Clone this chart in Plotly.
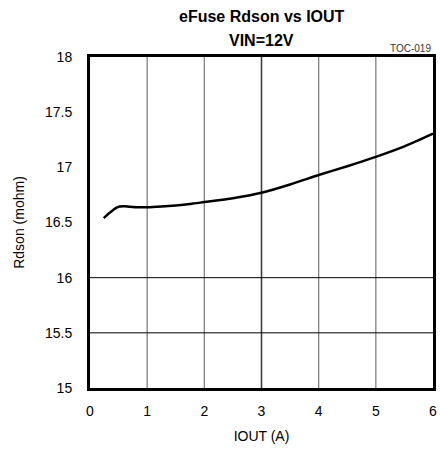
import plotly.graph_objects as go

iout = [0.24, 0.35, 0.45, 0.52, 0.6, 0.7, 0.85, 1.0, 1.25, 1.5, 1.75, 2.0, 2.5, 3.0, 3.5, 4.0, 4.5, 5.0, 5.5, 6.0]
rdson = [16.54, 16.59, 16.63, 16.645, 16.648, 16.643, 16.638, 16.638, 16.645, 16.655, 16.668, 16.685, 16.72, 16.77, 16.845, 16.93, 17.01, 17.095, 17.19, 17.305]

x_ticks = [0, 1, 2, 3, 4, 5, 6]
y_ticks = [15, 15.5, 16, 16.5, 17, 17.5, 18]
y_tick_text = ["15", "15.5", "16", "16.5", "17", "17.5", "18"]
h_grid = [15.5, 16]
v_grid = [1, 2, 4, 5]
title_lines = ["eFuse Rdson vs IOUT", "VIN=12V"]

fig = go.Figure()
fig.add_trace(go.Scatter(x=iout, y=rdson, mode="lines", line=dict(color="black", width=2.5, shape="spline", smoothing=0.8), showlegend=False))

shapes = []
for g in v_grid:
    shapes.append(dict(type="line", xref="x", yref="paper", x0=g, x1=g, y0=0, y1=1, line=dict(color="#808080", width=1.3), layer="below"))
shapes.append(dict(type="line", xref="x", yref="paper", x0=3, x1=3, y0=0, y1=1, line=dict(color="#404040", width=1.6), layer="below"))
for g in h_grid:
    shapes.append(dict(type="line", xref="paper", yref="y", x0=0, x1=1, y0=g, y1=g, line=dict(color="black", width=1), layer="below"))

font = "Liberation Sans, Arial, sans-serif"
annotations = [
    dict(text="<b>" + title_lines[0] + "</b>", xref="paper", yref="paper", x=0.5, y=1.121, xanchor="center", yanchor="middle",
         showarrow=False, font=dict(family=font, size=16, color="black")),
    dict(text="<b>" + title_lines[1] + "</b>", xref="paper", yref="paper", x=0.5, y=1.051, xanchor="center", yanchor="middle",
         showarrow=False, font=dict(family=font, size=16, color="black")),
    dict(text="TOC-019", xref="paper", yref="paper", x=1, y=1.003, xanchor="right", yanchor="bottom",
         showarrow=False, font=dict(family=font, size=10, color="#333")),
]
fig.update_layout(
    width=440, height=449,
    margin=dict(l=90, r=4, t=57, b=61),
    paper_bgcolor="white", plot_bgcolor="white",
    shapes=shapes,
    annotations=annotations,
    font=dict(family=font, size=14, color="black"),
)
fig.update_xaxes(range=[0, 6], tickvals=x_ticks, showgrid=False, zeroline=False,
                 showline=True, mirror=True, linecolor="black", linewidth=3,
                 ticks="outside", ticklen=8, tickcolor="white",
                 title=dict(text="IOUT (A)", font=dict(size=14), standoff=14))
fig.update_yaxes(range=[15, 18], tickvals=y_ticks, ticktext=y_tick_text, showgrid=False, zeroline=False,
                 showline=True, mirror=True, linecolor="black", linewidth=3,
                 ticks="outside", ticklen=12, tickcolor="white",
                 title=dict(text="Rdson (mohm)", font=dict(size=14), standoff=18))

fig.write_html("out.html", config={"displayModeBar": False},
               post_script="document.body.style.margin='0';document.body.style.overflow='hidden';")
